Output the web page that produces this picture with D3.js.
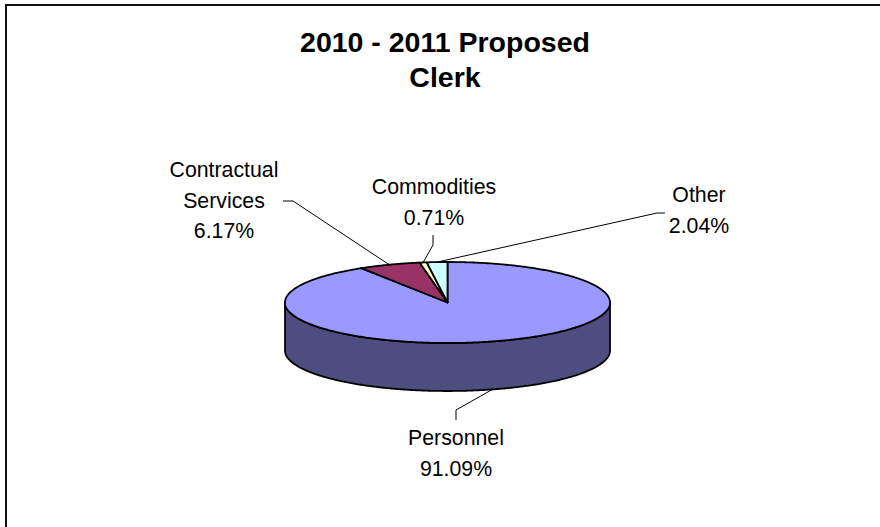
<!DOCTYPE html>
<html>
<head>
<meta charset="utf-8">
<script src="https://cdn.jsdelivr.net/npm/d3@7"></script>
<style>
  html, body { margin: 0; padding: 0; background: #fff; }
  svg { display: block; }
  text { font-family: "Liberation Sans", Arial, sans-serif; fill: #000; }
</style>
</head>
<body>
<svg id="chart" width="880" height="527"></svg>
<script>
// Budget shares, 2010 - 2011 proposed, Clerk
const categories = ["Personnel", "Contractual Services", "Commodities", "Other"];
const values = [91.09, 6.17, 0.71, 2.04];
const nameLines = [["Personnel"], ["Contractual", "Services"], ["Commodities"], ["Other"]];
const colors = ["#9999FF", "#993366", "#FFFFCC", "#CCFFFF"];
const titleLines = ["2010 - 2011 Proposed", "Clerk"];

// Label layout: centre x, first baseline, and leader elbow points
const labelLayout = [
  { x: 456, y: 445, leader: [[456, 420], [456, 410]] },
  { x: 224, y: 177, leader: [[283, 201], [293, 201]] },
  { x: 434, y: 194, leader: [[433, 235], [433, 245]] },
  { x: 699, y: 202, leader: [[665, 213], [657, 213]] }
];

const svg = d3.select("#chart");
const W = 880, H = 527;

// Chart frame
svg.append("rect")
  .attr("x", 6).attr("y", 5)
  .attr("width", W + 20).attr("height", H + 20)
  .attr("fill", "#fff").attr("stroke", "#111").attr("stroke-width", 2);

// Title
svg.append("g").selectAll("text").data(titleLines).join("text")
  .attr("x", 445)
  .attr("y", (d, i) => 52 + i * 35)
  .attr("text-anchor", "middle")
  .attr("font-size", 28.5)
  .attr("font-weight", "bold")
  .text(d => d);

// 3D pie geometry
const cx = 447.5, cy = 302.5, rx = 162.5, ry = 40.5, depth = 48;
const pie = d3.pie().sort(null).value(d => d).startAngle(0).endAngle(2 * Math.PI);
const arcs = pie(values);

const pt = (a, dy = 0) => [cx + rx * Math.sin(a), cy - ry * Math.cos(a) + dy];
const sample = (a0, a1, dy = 0) => {
  const n = Math.max(2, Math.ceil(Math.abs(a1 - a0) / 0.01));
  return d3.range(n + 1).map(i => pt(a0 + (a1 - a0) * i / n, dy));
};
const line = d3.line().curve(d3.curveLinear);

const shade = c => {
  const r = d3.rgb(c);
  return d3.rgb(r.r * 0.5, r.g * 0.5, r.b * 0.5).formatHex();
};

// Side walls for the front half of the ellipse
const sideG = svg.append("g");
arcs.forEach((a, i) => {
  const s = Math.max(a.startAngle, Math.PI / 2);
  const e = Math.min(a.endAngle, 3 * Math.PI / 2);
  if (e <= s) return;
  const pts = sample(s, e).concat(sample(e, s, depth));
  sideG.append("path")
    .attr("d", line(pts) + "Z")
    .attr("fill", shade(colors[i]))
    .attr("stroke", "#000")
    .attr("stroke-width", 1.8)
    .attr("stroke-linejoin", "round");
});

// Top faces
const topG = svg.append("g");
arcs.forEach((a, i) => {
  const pts = [[cx, cy]].concat(sample(a.startAngle, a.endAngle));
  topG.append("path")
    .attr("d", line(pts) + "Z")
    .attr("fill", colors[i])
    .attr("stroke", "#000")
    .attr("stroke-width", 1.8)
    .attr("stroke-linejoin", "round");
});

// Leader lines to slice midpoints on the outer edge
const leadG = svg.append("g");
arcs.forEach((a, i) => {
  const mid = (a.startAngle + a.endAngle) / 2;
  const front = Math.cos(mid) < 0;
  const end = pt(mid, front ? depth : 0);
  const pts = labelLayout[i].leader.concat([end]);
  leadG.append("path")
    .attr("d", line(pts))
    .attr("fill", "none")
    .attr("stroke", "#000")
    .attr("stroke-width", 1);
});

// Data labels
const fmt = d3.format(".2f");
const labG = svg.append("g");
arcs.forEach((a, i) => {
  const lines = nameLines[i].concat([fmt(values[i]) + "%"]);
  const L = labelLayout[i];
  labG.append("text")
    .attr("text-anchor", "middle")
    .attr("font-size", 21.3)
    .selectAll("tspan").data(lines).join("tspan")
    .attr("x", L.x)
    .attr("y", (d, j) => L.y + j * 30.5)
    .text(d => d);
});
</script>
</body>
</html>
